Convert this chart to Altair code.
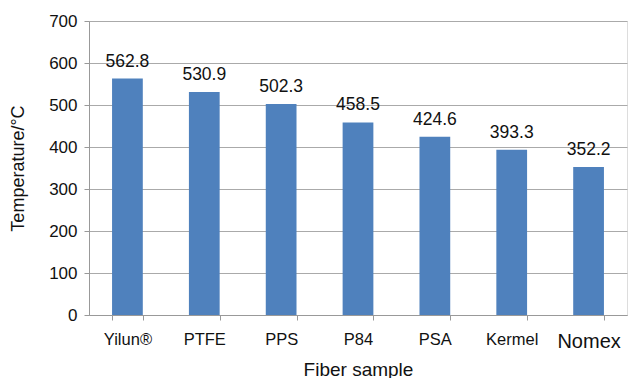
import altair as alt
import pandas as pd

# Thermal decomposition temperature of each fiber sample
samples = ["Yilun®", "PTFE", "PPS", "P84", "PSA", "Kermel", "Nomex"]
temps = [562.8, 530.9, 502.3, 458.5, 424.6, 393.3, 352.2]
y_ticks = [0, 100, 200, 300, 400, 500, 600, 700]

df = pd.DataFrame({"sample": samples, "temp": temps})
df["label"] = [f"{v:.1f}" for v in temps]

FONT = "Liberation Sans"
BAR = "#4F81BD"

x_enc = alt.X(
    "sample:N",
    sort=samples,
    scale=alt.Scale(paddingInner=0.6, paddingOuter=0.3),
    axis=alt.Axis(
        title="Fiber sample",
        titleFont=FONT,
        titleFontSize=19,
        titleFontWeight="normal",
        titleColor="#111",
        titleBaseline="alphabetic",
        titleY=60,
        labelAngle=0,
        labelFont=FONT,
        labelFontSize=alt.condition("datum.value == 'Nomex'", alt.value(20), alt.value(16.5)),
        labelColor="#111",
        labelPadding=11,
        tickBand="extent",
        tickSize=5,
        tickColor="#999",
        domainColor="#999",
        labelBaseline="top",
    ),
)

y_enc = alt.Y(
    "temp:Q",
    scale=alt.Scale(domain=[0, 700], nice=False),
    axis=alt.Axis(
        title="Temperature/°C",
        titleFont=FONT,
        titleFontSize=18,
        titleFontWeight="normal",
        titleColor="#111",
        titleX=-71,
        titleY=147,
        titleBaseline="middle",
        values=y_ticks,
        labelFont=FONT,
        labelFontSize=17,
        labelColor="#111",
        labelPadding=7,
        tickSize=5,
        tickColor="#999",
        domainColor="#999",
        gridColor="#aaaaaa",
        gridWidth=1,
    ),
)

bars = alt.Chart(df).mark_bar(color=BAR).encode(x=x_enc, y=y_enc)

labels = alt.Chart(df).mark_text(
    font=FONT, fontSize=17.5, color="#111", baseline="alphabetic", dy=-12
).encode(x=alt.X("sample:N", sort=samples), y="temp:Q", text="label:N")

chart = (
    alt.layer(bars, labels)
    .properties(
        width=538,
        height=294,
        autosize=alt.AutoSizeParams(type="none"),
        padding={"left": 89, "top": 21, "right": 1, "bottom": 63},
    )
    .configure_view(stroke=None)
    .configure(background="white")
)

chart.save("out.html", embed_options={"renderer": "svg", "actions": False})
